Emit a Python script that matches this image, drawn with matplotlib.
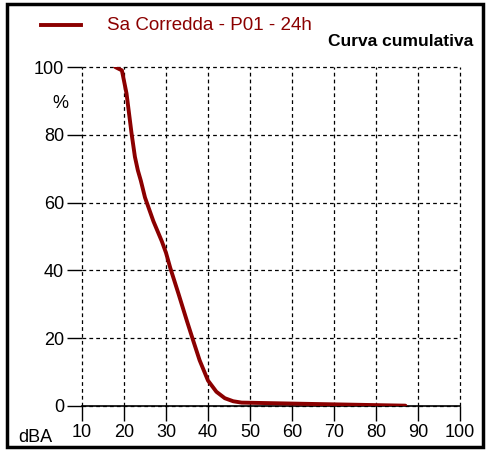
import numpy as np
import matplotlib.pyplot as plt
from matplotlib.patches import Rectangle

plt.rcParams['font.family'] = ['Liberation Sans', 'DejaVu Sans']

# cumulative curve
level_dba = [17.9, 19.5, 20.6, 21.8, 22.6, 23.3, 24.0, 25.0, 27.0, 29.0, 30.0, 31.0,
             33.0, 35.0, 36.5, 38.0, 40.0, 42.0, 44.0, 46.0, 48.0, 65.0, 87.0]
percent = [100, 99, 92.2, 80.4, 73.5, 69.5, 66.5, 61.5, 54.5, 48.6, 45.2, 40.8,
           33.0, 25.0, 19.2, 13.5, 7.5, 4.2, 2.3, 1.4, 1.0, 0.6, 0.1]

x_ticks = [10, 20, 30, 40, 50, 60, 70, 80, 90, 100]
y_ticks = [0, 20, 40, 60, 80, 100]
series_name = "Sa Corredda - P01 - 24h"
title = "Curva cumulativa"

fig = plt.figure(figsize=(4.93, 4.50), dpi=100)
ax = fig.add_axes([82/493, 1-406/450, (460-82)/493, (406-67)/450])

line, = ax.plot(level_dba, percent, color='#8b0000', lw=2.8,
                solid_capstyle='round', solid_joinstyle='round')

ax.set_xlim(10, 100)
ax.set_ylim(0, 100)
ax.set_xticks(x_ticks)
ax.set_yticks(y_ticks)
ax.tick_params(direction='out', length=11, width=1, labelsize=13, pad=2)
for s in ['top', 'right', 'left']:
    ax.spines[s].set_visible(False)
ax.spines['bottom'].set_linewidth(1.2)
ax.grid(True, color='black', linestyle=(0, (3, 2.5)), linewidth=0.9)
for gl in ax.get_xgridlines() + ax.get_ygridlines():
    gl.set_clip_on(False)
ax.set_axisbelow(False)
line.set_zorder(3)

# frame around the whole figure
fig.patches.append(Rectangle((7/493, 3/450), (483-7)/493, (446-3)/450,
                             transform=fig.transFigure, fill=False,
                             edgecolor='black', linewidth=2.5))

# legend
fig.add_artist(plt.Line2D([41/493, 81/493], [1-25/450, 1-25/450],
                          transform=fig.transFigure, color='#8b0000', lw=2.8))
fig.text(107/493, 1-25/450, series_name, color='#8b0000', fontsize=13.5, va='center')
fig.text(473/493, 1-42/450, title, fontsize=12.5, fontweight='bold', ha='right', va='center')

fig.text(60/493, 1-103/450, "%", fontsize=13, ha='center', va='center')
fig.text(35/493, 1-437/450, "dBA", fontsize=13, ha='center', va='center')

fig.savefig('out.png', dpi=100)
